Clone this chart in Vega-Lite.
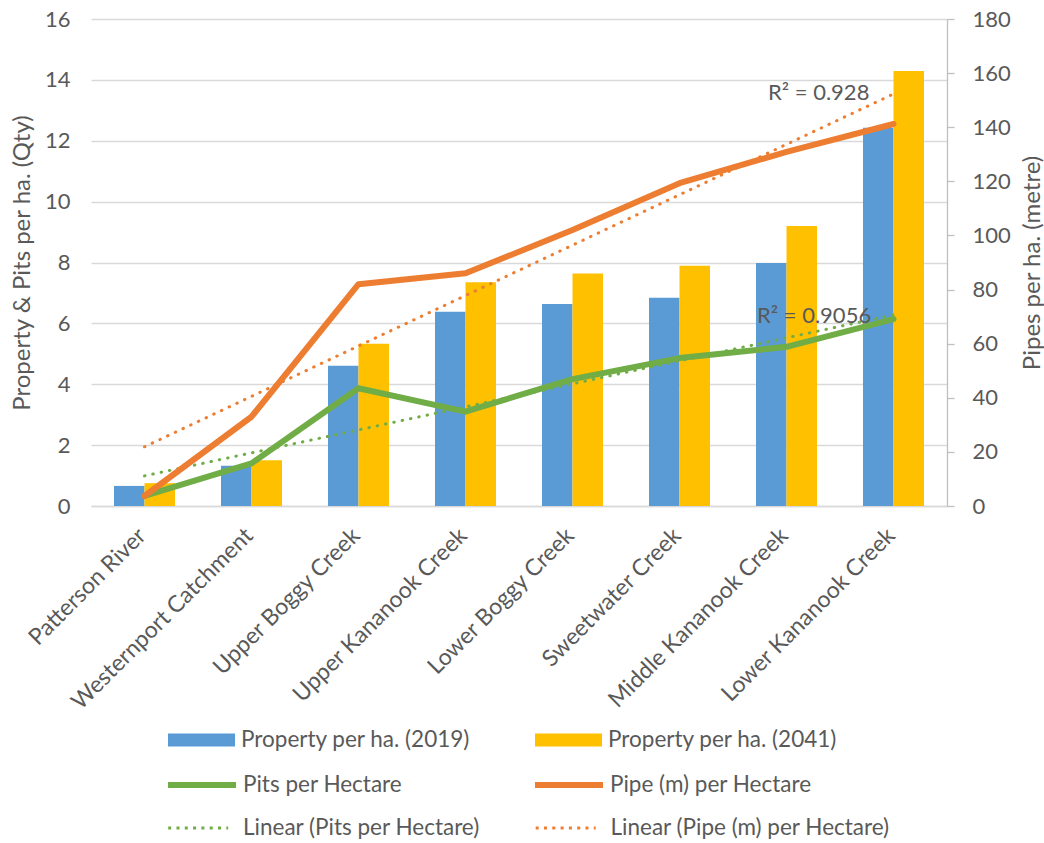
{
  "$schema": "https://vega.github.io/schema/vega-lite/v6.json",
  "width": 856,
  "height": 487,
  "autosize": {"type": "none"},
  "padding": {"left": 91, "top": 19, "right": 97, "bottom": 337},
  "background": "white",
  "config": {
    "font": "Lato",
    "view": {"stroke": null},
    "axis": {"labelFont": "Lato", "titleFont": "Lato"},
    "legend": {"labelFont": "Lato", "labelFontSize": 22.5, "labelColor": "#595959", "labelLimit": 400, "padding": 0, "orient": "none", "columns": 2, "title": null}
  },
  "datasets": {
    "bars": [
      {"region": "Patterson River", "series": "Property per ha. (2019)", "value": 0.66},
      {"region": "Patterson River", "series": "Property per ha. (2041)", "value": 0.75},
      {"region": "Westernport Catchment", "series": "Property per ha. (2019)", "value": 1.32},
      {"region": "Westernport Catchment", "series": "Property per ha. (2041)", "value": 1.5},
      {"region": "Upper Boggy Creek", "series": "Property per ha. (2019)", "value": 4.61},
      {"region": "Upper Boggy Creek", "series": "Property per ha. (2041)", "value": 5.33},
      {"region": "Upper Kananook Creek", "series": "Property per ha. (2019)", "value": 6.38},
      {"region": "Upper Kananook Creek", "series": "Property per ha. (2041)", "value": 7.35},
      {"region": "Lower Boggy Creek", "series": "Property per ha. (2019)", "value": 6.64},
      {"region": "Lower Boggy Creek", "series": "Property per ha. (2041)", "value": 7.64},
      {"region": "Sweetwater Creek", "series": "Property per ha. (2019)", "value": 6.84},
      {"region": "Sweetwater Creek", "series": "Property per ha. (2041)", "value": 7.89},
      {"region": "Middle Kananook Creek", "series": "Property per ha. (2019)", "value": 7.98},
      {"region": "Middle Kananook Creek", "series": "Property per ha. (2041)", "value": 9.2},
      {"region": "Lower Kananook Creek", "series": "Property per ha. (2019)", "value": 12.43},
      {"region": "Lower Kananook Creek", "series": "Property per ha. (2041)", "value": 14.29}
    ],
    "pits": [
      {"region": "Patterson River", "series": "Pits per Hectare", "value": 0.33},
      {"region": "Westernport Catchment", "series": "Pits per Hectare", "value": 1.4},
      {"region": "Upper Boggy Creek", "series": "Pits per Hectare", "value": 3.87},
      {"region": "Upper Kananook Creek", "series": "Pits per Hectare", "value": 3.1},
      {"region": "Lower Boggy Creek", "series": "Pits per Hectare", "value": 4.17},
      {"region": "Sweetwater Creek", "series": "Pits per Hectare", "value": 4.86},
      {"region": "Middle Kananook Creek", "series": "Pits per Hectare", "value": 5.23},
      {"region": "Lower Kananook Creek", "series": "Pits per Hectare", "value": 6.14}
    ],
    "pipe": [
      {"region": "Patterson River", "series": "Pipe (m) per Hectare", "value": 3.7},
      {"region": "Westernport Catchment", "series": "Pipe (m) per Hectare", "value": 33.0},
      {"region": "Upper Boggy Creek", "series": "Pipe (m) per Hectare", "value": 82.0},
      {"region": "Upper Kananook Creek", "series": "Pipe (m) per Hectare", "value": 86.0},
      {"region": "Lower Boggy Creek", "series": "Pipe (m) per Hectare", "value": 102.0},
      {"region": "Sweetwater Creek", "series": "Pipe (m) per Hectare", "value": 119.3},
      {"region": "Middle Kananook Creek", "series": "Pipe (m) per Hectare", "value": 130.9},
      {"region": "Lower Kananook Creek", "series": "Pipe (m) per Hectare", "value": 141.2}
    ],
    "pitsTrend": [
      {"region": "Patterson River", "series": "Linear (Pits per Hectare)", "value": 0.99},
      {"region": "Lower Kananook Creek", "series": "Linear (Pits per Hectare)", "value": 6.28}
    ],
    "pipeTrend": [
      {"region": "Patterson River", "series": "Linear (Pipe (m) per Hectare)", "value": 21.9},
      {"region": "Lower Kananook Creek", "series": "Linear (Pipe (m) per Hectare)", "value": 152.3}
    ],
    "pitsR2": [
      {"region": "Middle Kananook Creek", "label": "R² = 0.9056", "value": 6.25}
    ],
    "pipeR2": [
      {"region": "Middle Kananook Creek", "label": "R² = 0.928", "value": 152.8}
    ]
  },
  "layer": [
    {
      "layer": [
        {
          "data": {"name": "bars"},
          "mark": {"type": "bar"},
          "encoding": {
            "x": {
              "field": "region", "type": "nominal", "sort": null,
              "scale": {
                "domain": ["Patterson River", "Westernport Catchment", "Upper Boggy Creek", "Upper Kananook Creek", "Lower Boggy Creek", "Sweetwater Creek", "Middle Kananook Creek", "Lower Kananook Creek"],
                "paddingInner": 0.43, "paddingOuter": 0.215
              },
              "axis": {
                "title": null, "labelAngle": -45, "labelFontSize": 23, "labelColor": "#595959",
                "labelPadding": 18, "labelOffset": -10, "ticks": false, "domainColor": "#d9d9d9", "domainWidth": 1.3, "labelLimit": 400
              }
            },
            "xOffset": {
              "field": "series", "type": "nominal", "sort": null,
              "scale": {"domain": ["Property per ha. (2019)", "Property per ha. (2041)"], "paddingInner": 0, "paddingOuter": 0}
            },
            "y": {
              "field": "value", "type": "quantitative",
              "scale": {"domain": [0, 16], "nice": false},
              "axis": {
                "title": "Property & Pits per ha. (Qty)", "values": [0, 2, 4, 6, 8, 10, 12, 14, 16],
                "domain": false, "ticks": false, "grid": true, "gridColor": "#d9d9d9", "gridWidth": 1.3,
                "labelFontSize": 22, "labelColor": "#595959", "labelPadding": 21,
                "titleFontSize": 24, "titleColor": "#595959", "titleFontWeight": "normal", "titlePadding": 10
              }
            },
            "fill": {
              "field": "series", "type": "nominal", "sort": null,
              "scale": {"domain": ["Property per ha. (2019)", "Property per ha. (2041)"], "range": ["#5B9BD5", "#FFC000"]},
              "legend": {
                "legendX": 77, "legendY": 687.5, "columnPadding": 64,
                "symbolType": "M-1,-0.194H1V0.194H-1Z", "symbolSize": 4489, "symbolStrokeWidth": 0, "labelOffset": 6
              }
            }
          }
        },
        {
          "data": {"name": "pits"},
          "mark": {"type": "line", "strokeWidth": 6, "strokeCap": "round", "strokeJoin": "round"},
          "encoding": {
            "x": {"field": "region", "type": "nominal", "sort": null, "title": null,
              "scale": {"domain": ["Patterson River", "Westernport Catchment", "Upper Boggy Creek", "Upper Kananook Creek", "Lower Boggy Creek", "Sweetwater Creek", "Middle Kananook Creek", "Lower Kananook Creek"]}},
            "y": {"field": "value", "type": "quantitative", "scale": {"domain": [0, 16], "nice": false}},
            "stroke": {"field": "series", "type": "nominal", "sort": null,
              "scale": {"domain": ["Pits per Hectare", "Pipe (m) per Hectare"], "range": ["#70AD47", "#ED7D31"]},
              "legend": {
                "legendX": 74, "legendY": 729, "columnPadding": 120,
                "symbolType": "M-1,0H1", "symbolSize": 4624, "symbolStrokeWidth": 6, "labelOffset": 4
              }
            }
          }
        },
        {
          "data": {"name": "pitsTrend"},
          "mark": {"type": "line", "strokeWidth": 3, "strokeCap": "round", "strokeDash": [0.5, 8]},
          "encoding": {
            "x": {"field": "region", "type": "nominal", "sort": null, "title": null,
              "scale": {"domain": ["Patterson River", "Westernport Catchment", "Upper Boggy Creek", "Upper Kananook Creek", "Lower Boggy Creek", "Sweetwater Creek", "Middle Kananook Creek", "Lower Kananook Creek"]}},
            "y": {"field": "value", "type": "quantitative", "scale": {"domain": [0, 16], "nice": false}},
            "color": {"field": "series", "type": "nominal", "sort": null,
              "scale": {"domain": ["Linear (Pits per Hectare)", "Linear (Pipe (m) per Hectare)"], "range": ["#70AD47", "#ED7D31"]},
              "legend": {
                "legendX": 75.7, "legendY": 777.5, "columnPadding": 48.5,
                "symbolType": "M-1,0H1", "symbolSize": 3600, "symbolStrokeWidth": 3, "symbolDash": [3, 5.3], "labelOffset": 13.3
              }
            }
          }
        },
        {
          "data": {"name": "pitsR2"},
          "mark": {"type": "text", "align": "left", "baseline": "middle", "dx": -29.5, "fontSize": 22, "color": "#595959", "font": "Lato"},
          "encoding": {
            "x": {"field": "region", "type": "nominal", "sort": null, "title": null,
              "scale": {"domain": ["Patterson River", "Westernport Catchment", "Upper Boggy Creek", "Upper Kananook Creek", "Lower Boggy Creek", "Sweetwater Creek", "Middle Kananook Creek", "Lower Kananook Creek"]}},
            "y": {"field": "value", "type": "quantitative", "scale": {"domain": [0, 16], "nice": false}},
            "text": {"field": "label"}
          }
        }
      ]
    },
    {
      "layer": [
        {
          "data": {"name": "pipe"},
          "mark": {"type": "line", "strokeWidth": 6, "strokeCap": "round", "strokeJoin": "round"},
          "encoding": {
            "x": {"field": "region", "type": "nominal", "sort": null, "title": null,
              "scale": {"domain": ["Patterson River", "Westernport Catchment", "Upper Boggy Creek", "Upper Kananook Creek", "Lower Boggy Creek", "Sweetwater Creek", "Middle Kananook Creek", "Lower Kananook Creek"]}},
            "y": {
              "field": "value", "type": "quantitative",
              "scale": {"domain": [0, 180], "nice": false},
              "axis": {
                "orient": "right", "title": "Pipes per ha. (metre)", "values": [0, 20, 40, 60, 80, 100, 120, 140, 160, 180],
                "grid": false, "domainColor": "#bfbfbf", "domainWidth": 1.3,
                "tickColor": "#bfbfbf", "tickSize": 7, "tickWidth": 1.3,
                "labelPadding": 18, "labelFontSize": 22, "labelColor": "#595959",
                "titleFontSize": 24, "titleColor": "#595959", "titleFontWeight": "normal",
                "titleAngle": -90, "titleBaseline": "top", "titlePadding": 10
              }
            },
            "stroke": {"field": "series", "type": "nominal", "sort": null, "legend": null,
              "scale": {"domain": ["Pits per Hectare", "Pipe (m) per Hectare"]}}
          }
        },
        {
          "data": {"name": "pipeTrend"},
          "mark": {"type": "line", "strokeWidth": 3, "strokeCap": "round", "strokeDash": [0.5, 8]},
          "encoding": {
            "x": {"field": "region", "type": "nominal", "sort": null, "title": null,
              "scale": {"domain": ["Patterson River", "Westernport Catchment", "Upper Boggy Creek", "Upper Kananook Creek", "Lower Boggy Creek", "Sweetwater Creek", "Middle Kananook Creek", "Lower Kananook Creek"]}},
            "y": {"field": "value", "type": "quantitative", "scale": {"domain": [0, 180], "nice": false}},
            "color": {"field": "series", "type": "nominal", "sort": null, "legend": null,
              "scale": {"domain": ["Linear (Pits per Hectare)", "Linear (Pipe (m) per Hectare)"]}}
          }
        },
        {
          "data": {"name": "pipeR2"},
          "mark": {"type": "text", "align": "left", "baseline": "middle", "dx": -18.5, "fontSize": 22, "color": "#595959", "font": "Lato"},
          "encoding": {
            "x": {"field": "region", "type": "nominal", "sort": null, "title": null,
              "scale": {"domain": ["Patterson River", "Westernport Catchment", "Upper Boggy Creek", "Upper Kananook Creek", "Lower Boggy Creek", "Sweetwater Creek", "Middle Kananook Creek", "Lower Kananook Creek"]}},
            "y": {"field": "value", "type": "quantitative", "scale": {"domain": [0, 180], "nice": false}},
            "text": {"field": "label"}
          }
        }
      ]
    }
  ],
  "resolve": {"scale": {"y": "independent"}}
}
